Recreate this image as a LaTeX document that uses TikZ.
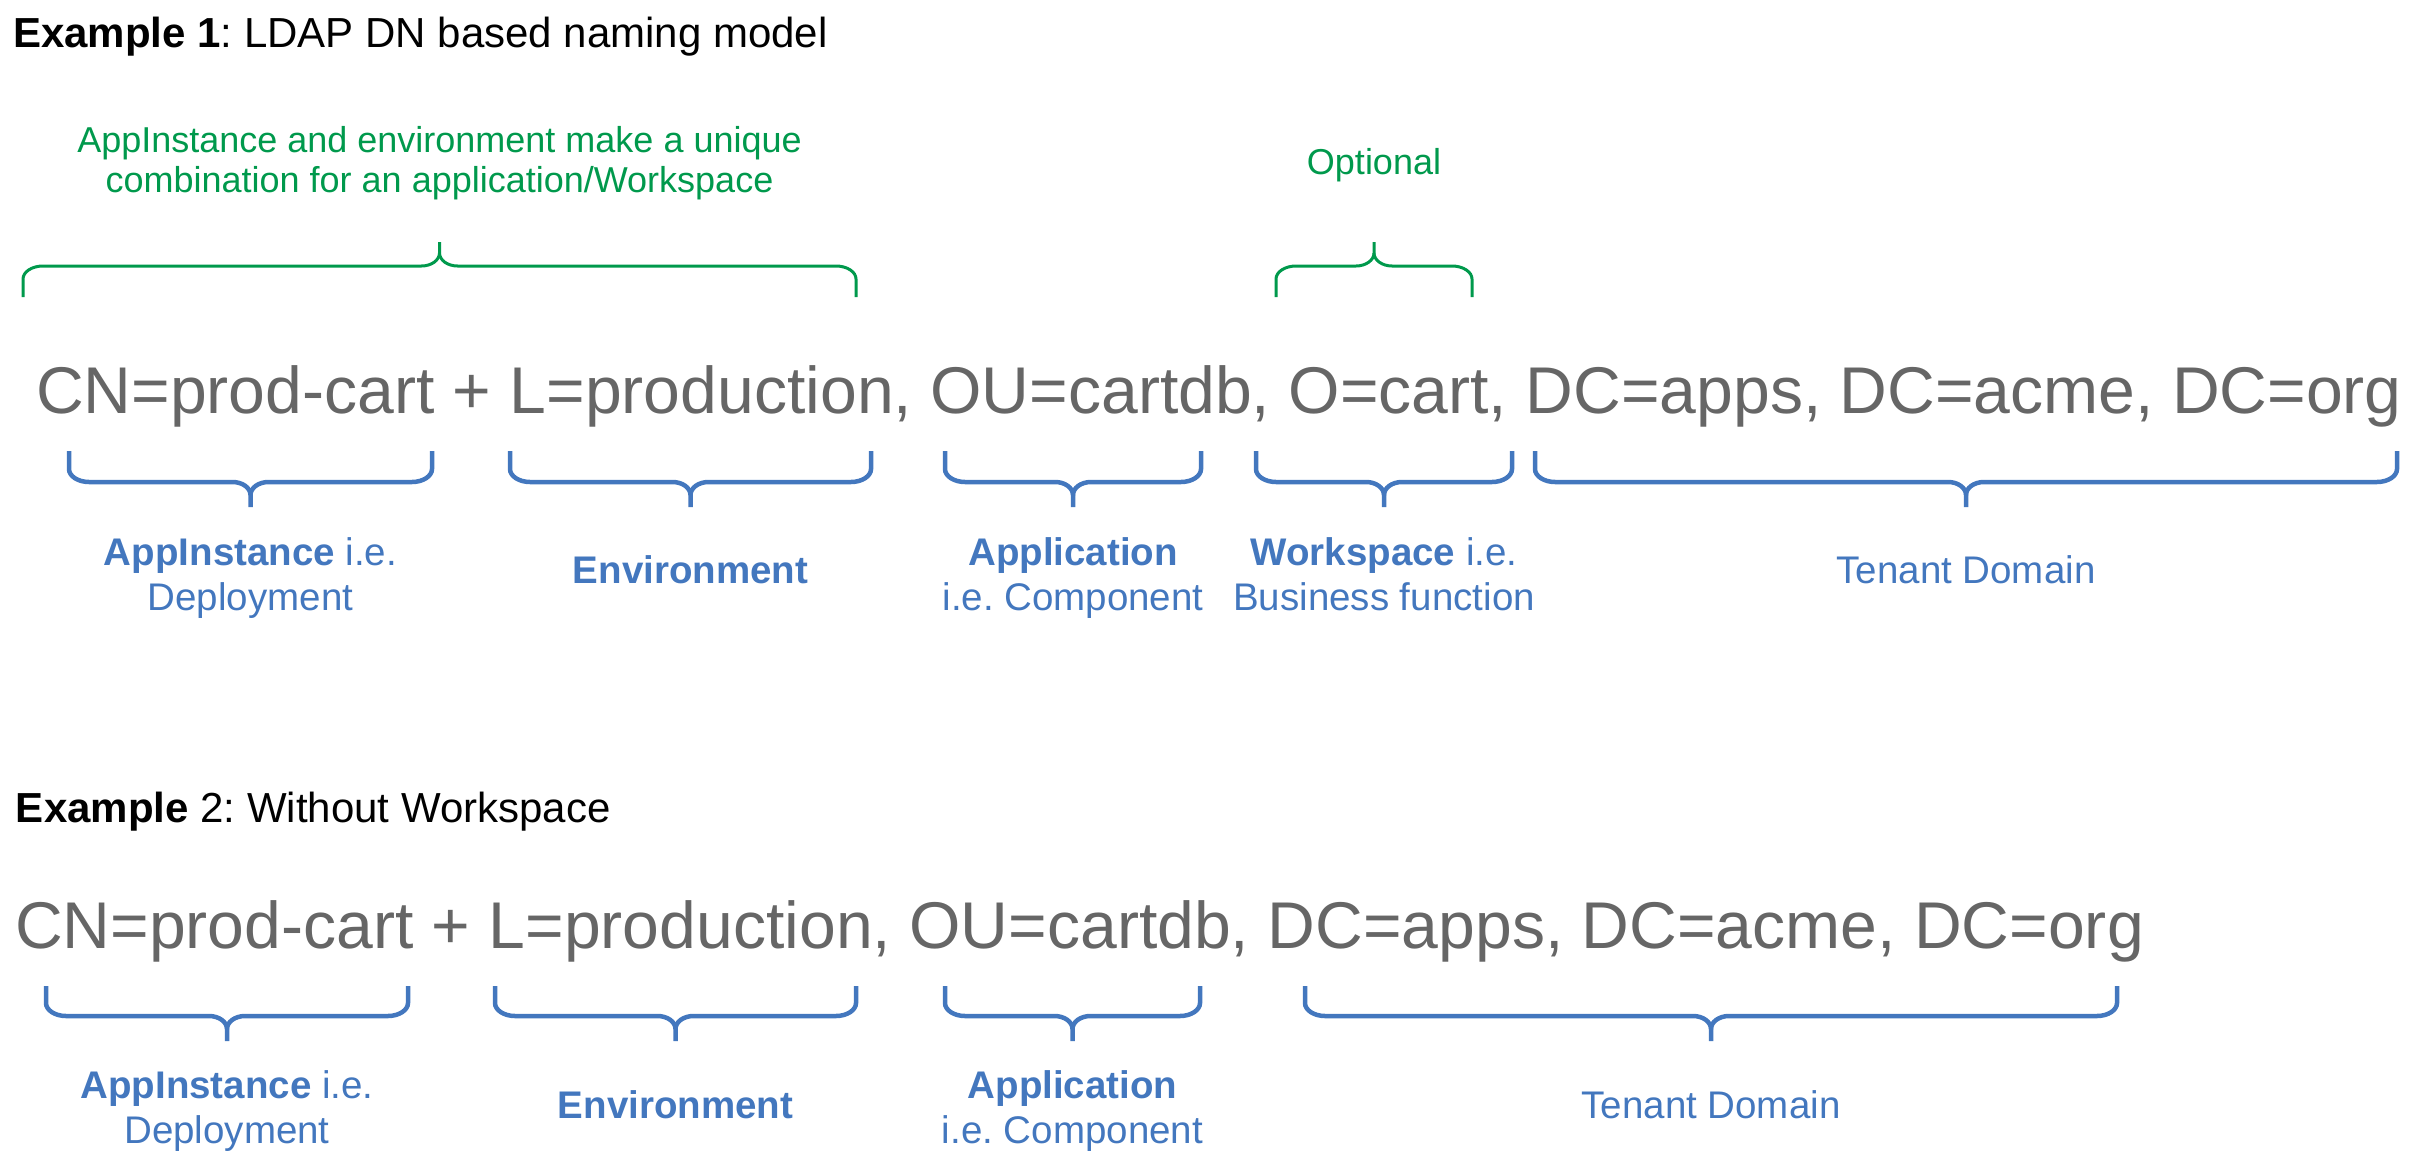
\documentclass[tikz,border=0pt]{standalone}
\usepackage{fontspec}
\setmainfont{Liberation Sans}
\frenchspacing
\definecolor{dngray}{HTML}{666666}
\definecolor{lblblue}{HTML}{4377BE}
\definecolor{optgreen}{HTML}{00994C}
\newcommand\curlybrace[6]{%
  \pgfmathsetmacro\cbm{(#1+#2)/2}%
  \pgfmathsetmacro\cbry{13*(#5-#4)/abs(#5-#4)}%
  \draw[#6] ({#1},{#3}) -- ({#1},{#4-(\cbry)})
     .. controls ({#1},{#4-0.45*(\cbry)}) and ({#1+9},{#4}) .. ({#1+20},{#4})
     -- ({\cbm-18},{#4})
     .. controls ({\cbm-8.1},{#4}) and ({\cbm},{#4+0.45*(\cbry)}) .. ({\cbm},{#4+(\cbry)})
     -- ({\cbm},{#5});
  \draw[#6] ({#2},{#3}) -- ({#2},{#4-(\cbry)})
     .. controls ({#2},{#4-0.45*(\cbry)}) and ({#2-9},{#4}) .. ({#2-20},{#4})
     -- ({\cbm+18},{#4})
     .. controls ({\cbm+8.1},{#4}) and ({\cbm},{#4+0.45*(\cbry)}) .. ({\cbm},{#4+(\cbry)});
}
\tikzset{
  plain/.style={inner sep=0pt, outer sep=0pt},
  title/.style={plain, anchor=base west, text=black, font=\fontsize{42}{50}\selectfont},
  dn/.style={plain, anchor=base west, text=dngray, font=\fontsize{66.1}{79}\selectfont},
  note/.style={plain, anchor=base, text=optgreen, font=\fontsize{36}{43}\selectfont},
  lbl/.style={plain, anchor=base, text=lblblue, font=\fontsize{38.5}{46}\selectfont},
  bluebrace/.style={draw=lblblue, line width=4.5pt},
  greenbrace/.style={draw=optgreen, line width=3pt},
}
\begin{document}
\begin{tikzpicture}[x=1pt, y=-1pt]
\useasboundingbox (0,0) rectangle (2409,1167);

% ---------- Example 1 ----------
\node[title] (t1) at (13,47) {\textbf{Example 1}: LDAP DN based naming model};

\node[note] (g1a) at (439.5,152) {AppInstance and environment make a unique};
\node[note] (g1b) at (439.5,192) {combination for an application/Workspace};
\node[note] (g2) at (1374,174) {Optional};

\curlybrace{23}{856}{297}{266}{242}{greenbrace}
\curlybrace{1276}{1472}{297}{266}{242}{greenbrace}

\node[dn] (dn1) at (36,413) {CN=prod-cart + L=production, OU=cartdb, O=cart, DC=apps, DC=acme, DC=org};

\curlybrace{69}{432}{451}{482}{507}{bluebrace}
\curlybrace{510}{871}{451}{482}{507}{bluebrace}
\curlybrace{945}{1201}{451}{482}{507}{bluebrace}
\curlybrace{1256}{1512}{451}{482}{507}{bluebrace}
\curlybrace{1535}{2397}{451}{482}{507}{bluebrace}

\node[lbl] (a1a) at (250.5,565) {\textbf{AppInstance} i.e.};
\node[lbl] (a1b) at (250.5,610) {Deployment};
\node[lbl] (e1) at (690.5,583) {\textbf{Environment}};
\node[lbl] (p1a) at (1073,565) {\textbf{Application}};
\node[lbl] (p1b) at (1073,610) {i.e. Component};
\node[lbl] (w1a) at (1384,565) {\textbf{Workspace} i.e.};
\node[lbl] (w1b) at (1384,610) {Business function};
\node[lbl] (d1) at (1966,583) {Tenant Domain};

% ---------- Example 2 ----------
\node[title] (t2) at (16,822) {\textbf{Example} 2: Without Workspace};

\node[dn] (dn2) at (15,948) {CN=prod-cart + L=production, OU=cartdb, DC=apps, DC=acme, DC=org};

\curlybrace{46}{408}{986}{1016}{1041}{bluebrace}
\curlybrace{495}{856}{986}{1016}{1041}{bluebrace}
\curlybrace{945}{1200}{986}{1016}{1041}{bluebrace}
\curlybrace{1305}{2117}{986}{1016}{1041}{bluebrace}

\node[lbl] (a2a) at (227,1098) {\textbf{AppInstance} i.e.};
\node[lbl] (a2b) at (227,1143) {Deployment};
\node[lbl] (e2) at (675.5,1118) {\textbf{Environment}};
\node[lbl] (p2a) at (1072.5,1098) {\textbf{Application}};
\node[lbl] (p2b) at (1072.5,1143) {i.e. Component};
\node[lbl] (d2) at (1711,1118) {Tenant Domain};
\end{tikzpicture}
\end{document}
